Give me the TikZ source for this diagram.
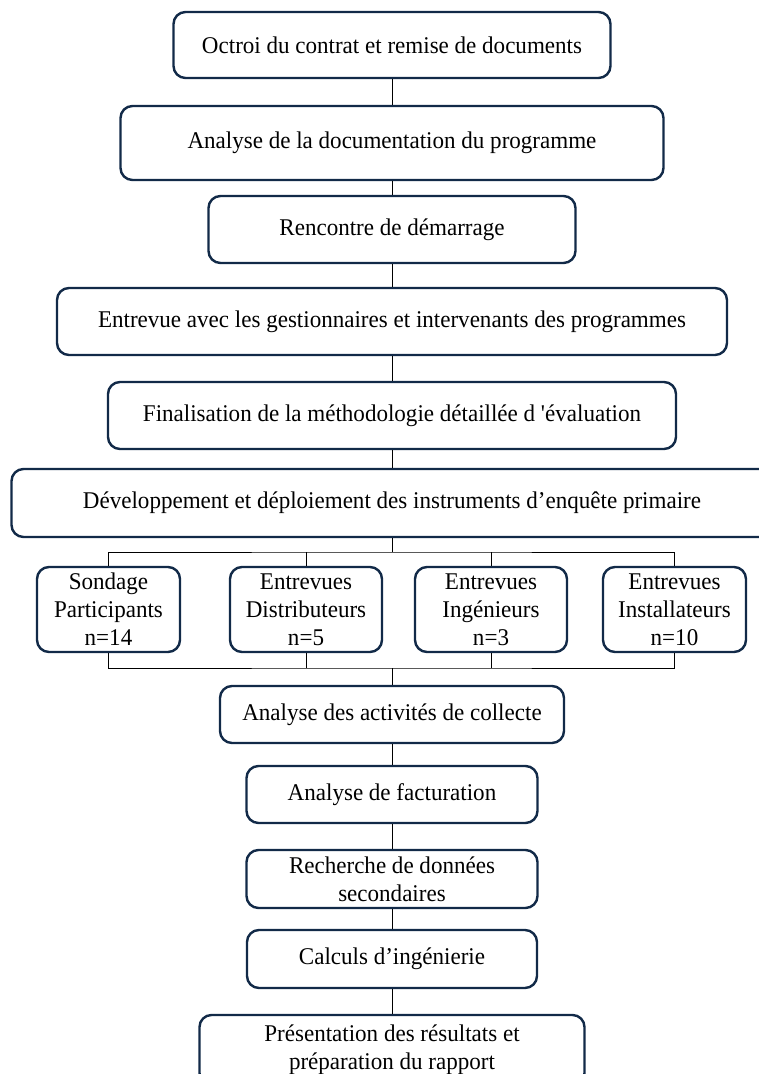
\documentclass[tikz,border=0pt]{standalone}
\usepackage{fontspec}
\newfontfamily\txt{Liberation Serif}[FakeStretch=0.96]
\definecolor{navy}{RGB}{18,42,72}
\begin{document}
\begin{tikzpicture}[x=1pt,y=-1pt,
  box/.style={draw=navy,line width=2.4pt,rounded corners=12pt,fill=white,
    align=center,inner sep=0pt,font=\txt\fontsize{24}{28}\selectfont},
  link/.style={draw=black,line width=0.8pt}]
\useasboundingbox (0,0) rectangle (759,1074);
\clip (0,0) rectangle (759,1074);
% main boxes
\node[box,minimum width=437pt,minimum height=66pt] (b1) at (392,45) {Octroi du contrat et remise de documents};
\node[box,minimum width=543pt,minimum height=74pt] (b2) at (392,143) {Analyse de la documentation du programme};
\node[box,minimum width=367pt,minimum height=67pt] (b3) at (392,229.5) {Rencontre de démarrage};
\node[box,minimum width=670pt,minimum height=67pt] (b4) at (392,321.5) {Entrevue avec les gestionnaires et intervenants des programmes};
\node[box,minimum width=568pt,minimum height=67pt] (b5) at (392,415.5) {Finalisation de la méthodologie détaillée d 'évaluation};
\node[box,minimum width=761pt,minimum height=68pt] (b6) at (392,503) {Développement et déploiement des instruments d’enquête primaire};
% small boxes
\node[box,minimum width=143pt,minimum height=85pt] (s1) at (108.5,609.5) {Sondage\\Participants\\n=14};
\node[box,minimum width=152pt,minimum height=85pt] (s2) at (306,609.5) {Entrevues\\Distributeurs\\n=5};
\node[box,minimum width=152pt,minimum height=85pt] (s3) at (491,609.5) {Entrevues\\Ingénieurs\\n=3};
\node[box,minimum width=143pt,minimum height=85pt] (s4) at (674.5,609.5) {Entrevues\\Installateurs\\n=10};
% lower boxes
\node[box,minimum width=344pt,minimum height=57pt] (b7) at (392,714.5) {Analyse des activités de collecte};
\node[box,minimum width=291pt,minimum height=57pt] (b8) at (392,794.5) {Analyse de facturation};
\node[box,minimum width=291pt,minimum height=58pt] (b9) at (392,879) {Recherche de données\\secondaires};
\node[box,minimum width=290pt,minimum height=58pt] (b10) at (392,959) {Calculs d’ingénierie};
\node[box,minimum width=385pt,minimum height=70pt] (b11) at (392,1050) {Présentation des résultats et\\préparation du rapport};
% branch coordinates
\coordinate (t) at (392,552);
\coordinate (m) at (392,668);
% connectors
\draw[link] (b1.south) -- (b2.north);
\draw[link] (b2.south) -- (b3.north);
\draw[link] (b3.south) -- (b4.north);
\draw[link] (b4.south) -- (b5.north);
\draw[link] (b5.south) -- (b6.north);
\draw[link] (b6.south) -- (t);
\draw[link] (s1.north) |- (t) -| (s4.north);
\draw[link] (s2.north) -- (s2.north |- t);
\draw[link] (s3.north) -- (s3.north |- t);
\draw[link] (s1.south) |- (m) -| (s4.south);
\draw[link] (s2.south) -- (s2.south |- m);
\draw[link] (s3.south) -- (s3.south |- m);
\draw[link] (m) -- (b7.north);
\draw[link] (b7.south) -- (b8.north);
\draw[link] (b8.south) -- (b9.north);
\draw[link] (b9.south) -- (b10.north);
\draw[link] (b10.south) -- (b11.north);
\end{tikzpicture}
\end{document}
